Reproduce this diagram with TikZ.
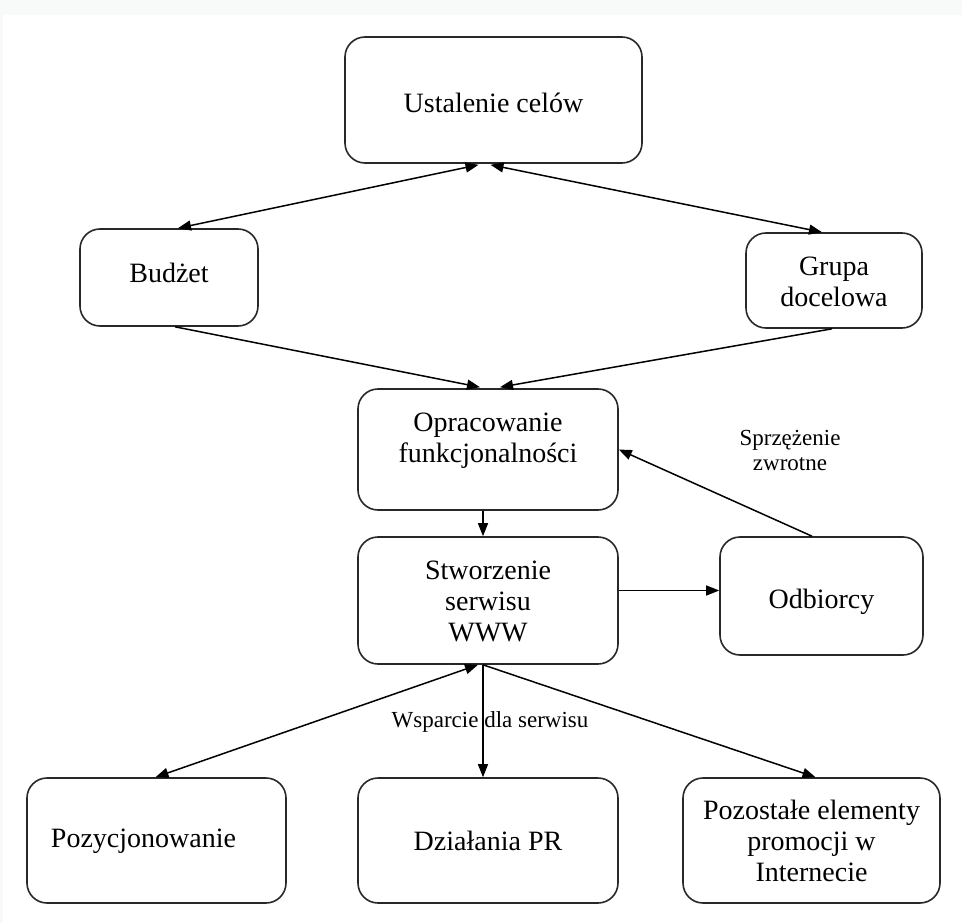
\documentclass[tikz,border=0pt]{standalone}
\usepackage{fontspec}
\setmainfont{Liberation Serif}
\usetikzlibrary{arrows.meta,calc}
\definecolor{edgegrey}{RGB}{40,40,40}
\definecolor{bggrey}{RGB}{248,250,250}
\begin{document}
\begin{tikzpicture}[x=1pt,y=-1pt,
  box/.style={draw=edgegrey, line width=1.6pt, rounded corners=20pt, inner sep=0pt},
  txt/.style={align=center, font=\fontsize{28}{31}\selectfont, inner sep=0pt},
  conn/.style={line width=1.5pt, draw=black, -{Triangle[length=13pt,width=10pt]}},
  dconn/.style={line width=1.5pt, draw=black, {Triangle[length=13pt,width=10pt]}-{Triangle[length=13pt,width=10pt]}},
  lbl/.style={align=center, font=\fontsize{23}{25}\selectfont, inner sep=0pt}]
\fill[bggrey] (0,0) rectangle (962,923);
\fill[white] (3,15) rectangle (962,923);
\useasboundingbox (0,0) rectangle (962,923);

\node[box, minimum width=297pt, minimum height=126pt,
  label={[txt, yshift=-3pt]center:Ustalenie celów}] (goal) at (493.5,100) {};
\node[box, minimum width=178pt, minimum height=97pt,
  label={[txt, yshift=5pt]center:Budżet}] (bud) at (169,277.5) {};
\node[box, minimum width=176pt, minimum height=95pt,
  label={[txt, yshift=-1pt]center:Grupa\\docelowa}] (grp) at (834,280.5) {};
\node[box, minimum width=260pt, minimum height=121pt,
  label={[txt, yshift=9pt]center:Opracowanie\\funkcjonalności}] (opr) at (488,449.5) {};
\node[box, minimum width=260pt, minimum height=127pt,
  label={[txt, yshift=-1pt]center:Stworzenie\\serwisu\\WWW}] (stw) at (488,600.5) {};
\node[box, minimum width=203pt, minimum height=118pt,
  label={[txt, yshift=-6pt]center:Odbiorcy}] (odb) at (821.5,596) {};
\node[box, minimum width=259pt, minimum height=125pt,
  label={[txt, xshift=-13pt, yshift=-1pt]center:Pozycjonowanie}] (poz) at (156.5,840.5) {};
\node[box, minimum width=260pt, minimum height=125pt,
  label={[txt]center:Działania PR}] (dzi) at (488,840.5) {};
\node[box, minimum width=257pt, minimum height=125pt,
  label={[txt]center:Pozostałe elementy\\promocji w\\Internecie}] (pro) at (811.5,840.5) {};

\node[lbl] (fb) at (790,450) {Sprzężenie\\zwrotne};
\node[lbl] (ws) at (490,722) {Wsparcie dla serwisu};

\draw[dconn] ($(bud.north)+(9,0)$) -- ($(goal.south)+(-15,1)$);
\draw[dconn] ($(grp.north)+(-12,0)$) -- ($(goal.south)+(-3,1)$);
\draw[conn] ($(bud.south)+(6,0)$) -- ($(opr.north)+(-8,-1)$);
\draw[conn] ($(grp.south)+(-2,0)$) -- ($(opr.north)+(12,-1)$);
\draw[conn] ($(opr.south)+(-5,0)$) -- ($(stw.north)+(-5,0)$);
\draw[conn] ($(stw.east)+(0,-10)$) -- ($(odb.west)+(0,-5.5)$);
\draw[conn] ($(odb.north)+(-9.5,0)$) -- (opr.east);
\draw[dconn] ($(poz.north)+(-1,0)$) -- ($(stw.south)+(-10,0)$);
\draw[conn] ($(stw.south)+(-5,0)$) -- ($(dzi.north)+(-5,0)$);
\draw[conn] ($(stw.south)+(-5,0)$) -- ($(pro.north)+(4,0)$);
\end{tikzpicture}
\end{document}
